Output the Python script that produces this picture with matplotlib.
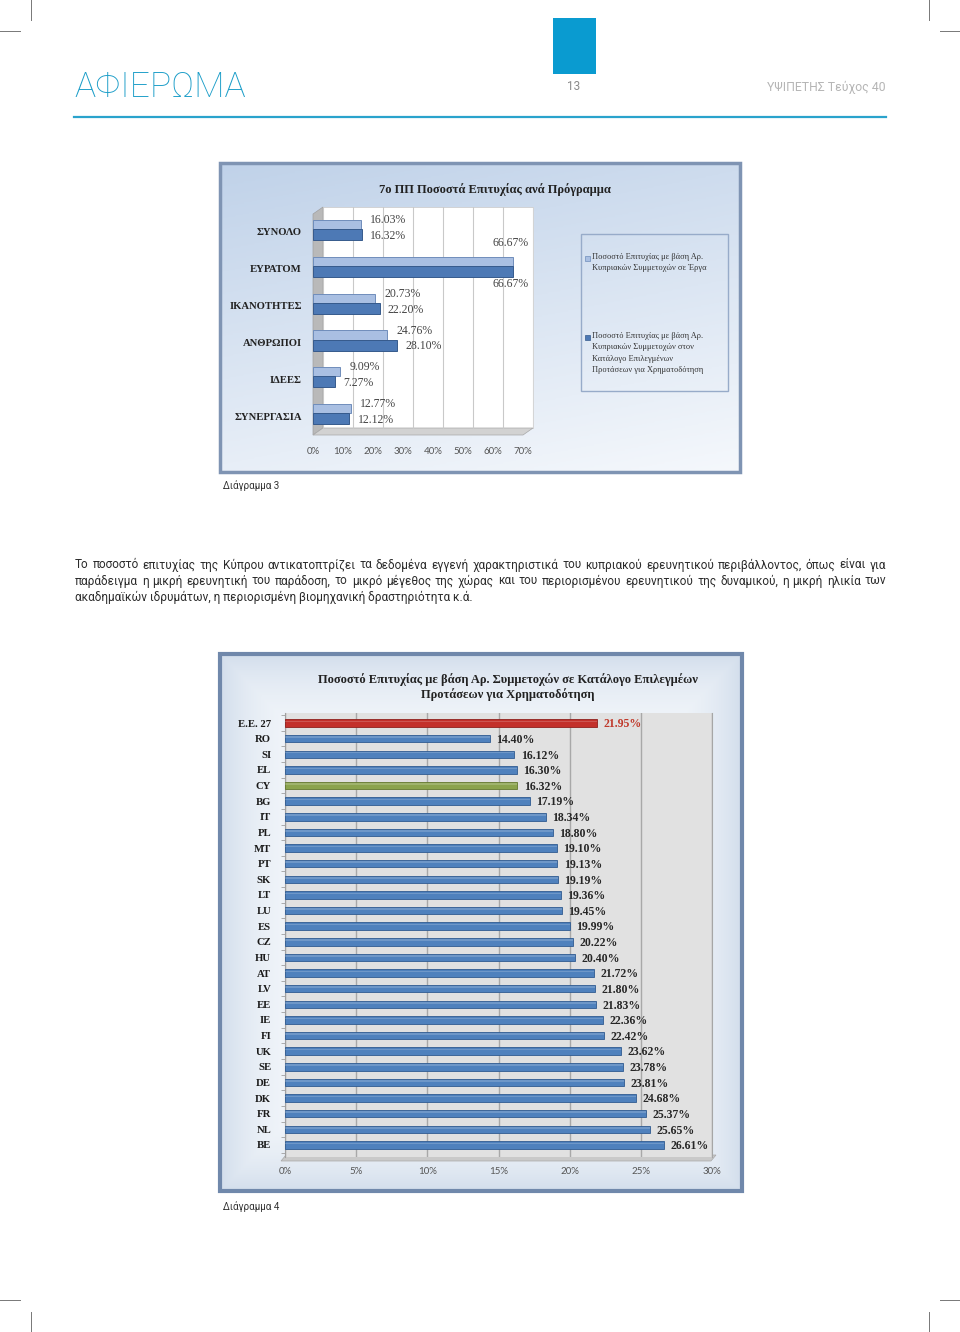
import numpy as np
import matplotlib
matplotlib.use('Agg')
import matplotlib.pyplot as plt
from matplotlib.patches import Rectangle, Polygon
from matplotlib.colors import LinearSegmentedColormap
from matplotlib.transforms import ScaledTranslation

W, H = 960, 1332

# ---- Diagram 3: success rate per programme ----
programs = ['ΣΥΝΟΛΟ', 'ΕΥΡΑΤΟΜ', 'ΙΚΑΝΟΤΗΤΕΣ', 'ΑΝΘΡΩΠΟΙ', 'ΙΔΕΕΣ', 'ΣΥΝΕΡΓΑΣΙΑ']
rate_projects = [16.03, 66.67, 20.73, 24.76, 9.09, 12.77]
rate_shortlist = [16.32, 66.67, 22.20, 28.10, 7.27, 12.12]
legend_labels = ['Ποσοστό Επιτυχίας με βάση Αρ.\nΚυπριακών Συμμετοχών σε Έργα',
                 'Ποσοστό Επιτυχίας με βάση Αρ.\nΚυπριακών Συμμετοχών στον\nΚατάλογο Επιλεγμένων\nΠροτάσεων για Χρηματοδότηση']
ticks1 = [0, 10, 20, 30, 40, 50, 60, 70]

# ---- Diagram 4: success rate per country ----
countries = ['E.E. 27', 'RO', 'SI', 'EL', 'CY', 'BG', 'IT', 'PL', 'MT', 'PT', 'SK', 'LT', 'LU', 'ES',
             'CZ', 'HU', 'AT', 'LV', 'EE', 'IE', 'FI', 'UK', 'SE', 'DE', 'DK', 'FR', 'NL', 'BE']
country_rates = [21.95, 14.40, 16.12, 16.30, 16.32, 17.19, 18.34, 18.80, 19.10, 19.13, 19.19, 19.36, 19.45, 19.99,
                 20.22, 20.40, 21.72, 21.80, 21.83, 22.36, 22.42, 23.62, 23.78, 23.81, 24.68, 25.37, 25.65, 26.61]
ticks2 = [0, 5, 10, 15, 20, 25, 30]

paragraph = [
    "Το ποσοστό επιτυχίας της Κύπρου αντικατοπτρίζει τα δεδομένα εγγενή χαρακτηριστικά του κυπριακού ερευνητικού περιβάλλοντος, όπως είναι για",
    "παράδειγμα η μικρή ερευνητική του παράδοση, το μικρό μέγεθος της χώρας και του περιορισμένου ερευνητικού της δυναμικού, η μικρή ηλικία των",
    "ακαδημαϊκών ιδρυμάτων, η περιορισμένη βιομηχανική δραστηριότητα κ.ά.",
]

SERIF = ['Liberation Serif', 'DejaVu Serif']
SANS = ['Roboto', 'DejaVu Sans']
TICKF = ['Lato', 'DejaVu Sans']

TEAL = '#1b9dc8'
LIGHT = '#a9bfe2'
DARK = '#4d79b5'
BLUE = '#4f81bd'
RED = '#c3302b'
GREEN = '#8ba34d'

fig = plt.figure(figsize=(W / 100, H / 100), dpi=100)
page = fig.add_axes([0, 0, 1, 1])
page.set_xlim(0, W)
page.set_ylim(H, 0)
page.axis('off')


def box(x0, y0, x1, y1):
    return fig.add_axes([x0 / W, 1 - y1 / H, (x1 - x0) / W, (y1 - y0) / H])


# -----------------------------
# page furniture
# -----------------------------
for x in (31, 929):
    page.plot([x, x], [0, 20], color='#777777', lw=0.7)
    page.plot([x, x], [1312, 1332], color='#777777', lw=0.7)
for xs in ((0, 20), (940, 960)):
    page.plot(xs, [31, 31], color='#777777', lw=0.7)
    page.plot(xs, [1300, 1300], color='#777777', lw=0.7)

page.text(74, 87, 'ΑΦΙΕΡΩΜΑ', fontsize=25.5, color=TEAL, family=SANS, fontweight='light',
          va='center', ha='left')
page.add_patch(Rectangle((553, 18), 43, 56, color='#0a9bd0', lw=0))
page.text(574, 87, '13', fontsize=8.5, color='#8a8a8a', family=SANS, ha='center', va='center')
page.text(886, 87, 'ΥΨΙΠΕΤΗΣ Τεύχος 40', fontsize=8.8, color='#b5b5b5', family=SANS,
          ha='right', va='center')
page.plot([74, 886], [117, 117], color='#2aa3cc', lw=1.6)

# -----------------------------
# Diagram 3 frame
# -----------------------------
gy = np.linspace(0, 1, 120)[:, None]
gx = np.linspace(0, 1, 200)[None, :]
grad1 = np.clip(0.75 * gy + 0.25 * gx, 0, 1)
cm1 = LinearSegmentedColormap.from_list('c1', ['#c0d2e9', '#f5f8fc'])
page.imshow(grad1, extent=(220, 740, 472, 163), cmap=cm1, aspect='auto', origin='upper', zorder=0)
page.add_patch(Rectangle((220, 163), 520, 309, fill=False, ec='#7f94b3', lw=2.5, zorder=3))

# back wall, side wall and floor
page.add_patch(Rectangle((323, 207), 210, 221, fc='white', ec='#cfcfcf', lw=0.6, zorder=1))
page.add_patch(Polygon([(313, 214), (323, 207), (323, 428), (313, 435)], closed=True,
                       fc='#b9b9b9', ec='#a0a0a0', lw=0.5, zorder=1))
page.add_patch(Polygon([(313, 435), (323, 428), (533, 428), (523, 435)], closed=True,
                       fc='#d2d2d2', ec='#a8a8a8', lw=0.5, zorder=1))

page.text(495, 190, '7ο ΠΠ Ποσοστά Επιτυχίας ανά Πρόγραμμα', fontsize=9, fontweight='bold',
          family=SERIF, color='#222222', ha='center', va='center')

ax1 = box(313, 207, 533, 435)
ax1.set_facecolor('none')
ax1.set_xlim(0, 73.33)
ax1.set_ylim(5.516, -0.679)
for s in ax1.spines.values():
    s.set_visible(False)

shift = ax1.transData + ScaledTranslation(0.1, 0, fig.dpi_scale_trans)
for t in ticks1:
    ax1.plot([t, t], [-0.679, 5.33], color='#c9c9c9', lw=0.8, transform=shift, zorder=0)

yy = np.arange(len(programs))
ax1.barh(yy - 0.2, rate_projects, height=0.25, color=LIGHT, edgecolor='#6f8dbb', lw=0.7, zorder=2)
ax1.barh(yy + 0.075, rate_shortlist, height=0.30, color=DARK, edgecolor='#365a8c', lw=0.7, zorder=2)

lab = dict(fontsize=8.5, family=SERIF, color='#444444', va='center')
for i, (a, b) in enumerate(zip(rate_projects, rate_shortlist)):
    if a > 60:
        ax1.text(a + 5.3, i - 0.71, f'{a:.2f}%', ha='right', **lab)
        ax1.text(b + 5.3, i + 0.41, f'{b:.2f}%', ha='right', **lab)
    else:
        ax1.text(a + 3.0, i - 0.32, f'{a:.2f}%', ha='left', **lab)
        ax1.text(b + 2.7, i + 0.11, f'{b:.2f}%', ha='left', **lab)

ax1.set_yticks(yy)
ax1.set_yticklabels(programs, fontsize=7.7, fontweight='bold', family=SERIF, color='#222222')
ax1.set_xticks(ticks1)
ax1.set_xticklabels([f'{t}%' for t in ticks1], fontsize=7, family=TICKF, color='#555555')
ax1.tick_params(axis='y', length=0, pad=8)
ax1.tick_params(axis='x', length=0, pad=9)

# legend
page.add_patch(Rectangle((581, 234), 147, 157, fill=False, ec='#97abc9', lw=1, zorder=2))
for (ly, c, ec), txt in zip([(259, LIGHT, '#6f8dbb'), (338, DARK, '#365a8c')], legend_labels):
    page.add_patch(Rectangle((585, ly - 3), 5, 5, fc=c, ec=ec, lw=0.5, zorder=2))
    page.text(592, ly - 6, txt, fontsize=6, family=SERIF, color='#333333', va='top', ha='left',
              linespacing=1.55)

page.text(223, 486, 'Διάγραμμα 3', fontsize=7, family=SANS, color='#333333', va='center')

# -----------------------------
# paragraph (justified)
# -----------------------------
renderer = fig.canvas.get_renderer()
for k, line in enumerate(paragraph):
    y = 565 + 16 * k
    kw = dict(fontsize=8.45, family=SANS, color='#2b2b2b', va='center', ha='left')
    if k == len(paragraph) - 1:
        page.text(75, y, line, **kw)
        continue
    words = line.split()
    objs = [page.text(0, y, w, **kw) for w in words]
    widths = [o.get_window_extent(renderer).width for o in objs]
    gap = (886 - 75 - sum(widths)) / (len(words) - 1)
    x = 75
    for o, w in zip(objs, widths):
        o.set_x(x)
        x += w + gap

# -----------------------------
# Diagram 4 frame
# -----------------------------
gx2 = np.linspace(-1, 1, 200)[None, :]
gy2 = np.linspace(-1, 1, 300)[:, None]
edge = np.clip(np.maximum(np.abs(gx2) ** 6, np.abs(gy2) ** 6), 0, 1)
cm2 = LinearSegmentedColormap.from_list('c2', ['#f6f9fc', '#d3deec'])
page.imshow(edge, extent=(220, 742, 1191, 654), cmap=cm2, aspect='auto', origin='upper', zorder=0)
page.add_patch(Rectangle((220, 654), 522, 537, fill=False, ec='#7088ab', lw=3, zorder=3))

page.text(508, 687, 'Ποσοστό Επιτυχίας με βάση Αρ. Συμμετοχών σε Κατάλογο Επιλεγμέων\nΠροτάσεων για Χρηματοδότηση',
          fontsize=9, fontweight='bold', family=SERIF, color='#222222', ha='center', va='center',
          linespacing=1.15)

page.add_patch(Polygon([(281, 1161), (286, 1155), (716, 1155), (711, 1161)], closed=True,
                       fc='#c9c9c9', ec='#a8a8a8', lw=0.5, zorder=1))

ax2 = box(285, 713, 712, 1157)
ax2.set_facecolor('#e1e1e1')
ax2.set_xlim(0, 30)
ax2.set_ylim(27.77, -0.64)
for side in ('top', 'bottom'):
    ax2.spines[side].set_visible(False)
ax2.spines['right'].set_color('#a6a6a6')
ax2.spines['left'].set_color('#a0a0a0')
ax2.spines['left'].set_linewidth(0.8)
ax2.grid(axis='x', color='#a8a8a8', lw=1)
ax2.set_axisbelow(True)

highlight = {'E.E. 27': RED, 'CY': GREEN}
edge_hi = {'E.E. 27': '#8f1f1c', 'CY': '#63782f'}
bar_colors = [highlight.get(c, BLUE) for c in countries]
bar_edges = [edge_hi.get(c, '#2f5b91') for c in countries]
y2 = np.arange(len(countries))
ax2.barh(y2, country_rates, height=0.48, color=bar_colors, edgecolor=bar_edges, lw=0.6, zorder=3)
ax2.barh(y2 - 0.1, country_rates, height=0.1, color='white', alpha=0.18, lw=0, zorder=4)

for i, (c, v) in enumerate(zip(countries, country_rates)):
    ax2.text(v + 0.45, i + 0.08, f'{v:.2f}%', fontsize=8.5, fontweight='bold', family=SERIF,
             color=('#c0392b' if c == 'E.E. 27' else '#262626'), va='center', ha='left', zorder=5)

ax2.set_yticks(y2)
ax2.set_yticklabels(countries, fontsize=7.7, fontweight='bold', family=SERIF, color='#1a1a1a')
ax2.set_yticks(np.arange(len(countries) + 1) - 0.5, minor=True)
ax2.tick_params(axis='y', which='major', length=0, pad=10)
ax2.tick_params(axis='y', which='minor', length=3, color='#a0a0a0')
ax2.set_xticks(ticks2)
ax2.set_xticklabels([f'{t}%' for t in ticks2], fontsize=7, family=TICKF, color='#555555')
ax2.tick_params(axis='x', length=0, pad=7)

page.text(223, 1207, 'Διάγραμμα 4', fontsize=7, family=SANS, color='#333333', va='center')

page.set_xlim(0, W)
page.set_ylim(H, 0)

fig.savefig('out.png', dpi=100)
